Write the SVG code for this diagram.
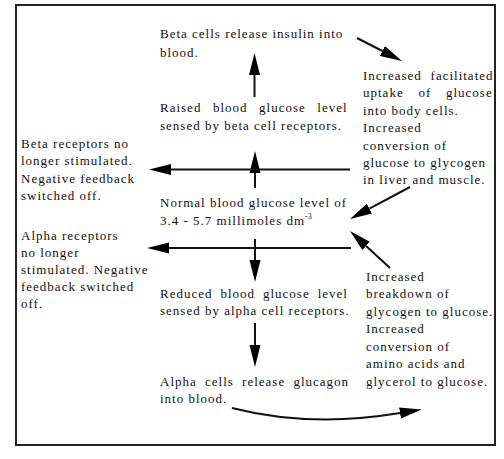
<svg xmlns="http://www.w3.org/2000/svg" width="504" height="459" viewBox="0 0 504 459">
<style>
text{font-size:13px;letter-spacing:1px;fill:#111}
.c{fill:none;stroke:#111;stroke-width:2}
</style>
<defs>
<marker id="ah" markerUnits="userSpaceOnUse" markerWidth="22" markerHeight="12" refX="0" refY="6" orient="auto">
<path d="M0,0.5 L22,6 L0,11.5 z" fill="#000"/>
</marker>
</defs>
<rect width="504" height="459" fill="#fff"/>
<rect x="16" y="5" width="479" height="440" fill="none" stroke="#222" stroke-width="2"/>
<g font-family="Liberation Serif, Times New Roman, serif">
<g id="insulin">
<text x="160" y="38">Beta cells release insulin into</text>
<text x="160" y="57">blood.</text>
</g>
<g id="raised">
<text x="160" y="111.5" word-spacing="7.3">Raised blood glucose level</text>
<text x="160" y="129.5">sensed by beta cell receptors.</text>
</g>
<g id="uptake">
<text x="363" y="80" word-spacing="4.5">Increased facilitated</text>
<text x="363" y="97.4" word-spacing="10.5">uptake of glucose</text>
<text x="363" y="114.8">into body cells.</text>
<text x="363" y="132.2">Increased</text>
<text x="363" y="149.6">conversion of</text>
<text x="363" y="167">glucose to glycogen</text>
<text x="363" y="184.4">in liver and muscle.</text>
</g>
<g id="beta-off">
<text x="21" y="147.5">Beta receptors no</text>
<text x="21" y="165">longer stimulated.</text>
<text x="21" y="182.5">Negative feedback</text>
<text x="21" y="199.5">switched off.</text>
</g>
<g id="normal">
<text x="160" y="207">Normal blood glucose level of</text>
<text x="160" y="224.5">3.4 - 5.7 millimoles dm<tspan dy="-6" font-size="8" letter-spacing="0">-3</tspan></text>
</g>
<g id="alpha-off">
<text x="21" y="240">Alpha receptors</text>
<text x="21" y="257">no longer</text>
<text x="21" y="273.5">stimulated. Negative</text>
<text x="21" y="290.5">feedback switched</text>
<text x="21" y="307.5">off.</text>
</g>
<g id="reduced">
<text x="160" y="298" word-spacing="3.7">Reduced blood glucose level</text>
<text x="160" y="315">sensed by alpha cell receptors.</text>
</g>
<g id="breakdown">
<text x="366" y="280.5">Increased</text>
<text x="366" y="298">breakdown of</text>
<text x="366" y="315.5">glycogen to glucose.</text>
<text x="366" y="333">Increased</text>
<text x="366" y="350.5">conversion of</text>
<text x="366" y="368">amino acids and</text>
<text x="366" y="385.5">glycerol to glucose.</text>
</g>
<g id="glucagon">
<text x="160" y="386" word-spacing="4">Alpha cells release glucagon</text>
<text x="160" y="403">into blood.</text>
</g>
</g>
<g id="connectors">
<path class="c" marker-end="url(#ah)" d="M254.5,97 V75"/>
<path class="c" marker-end="url(#ah)" d="M357,38 L382.4,51"/>
<path class="c" marker-end="url(#ah)" d="M255,188 V173"/>
<path class="c" marker-end="url(#ah)" d="M350,169.5 H171"/>
<path class="c" marker-end="url(#ah)" d="M410,187 L369.4,208.6"/>
<path class="c" marker-end="url(#ah)" d="M351,248 H169"/>
<path class="c" marker-end="url(#ah)" d="M390,268 L366.1,245.9"/>
<path class="c" marker-end="url(#ah)" d="M255,239 V260"/>
<path class="c" marker-end="url(#ah)" d="M255,323 V345"/>
<path class="c" marker-end="url(#ah)" d="M232,408 Q310,428 400,413"/>
</g>
</svg>
